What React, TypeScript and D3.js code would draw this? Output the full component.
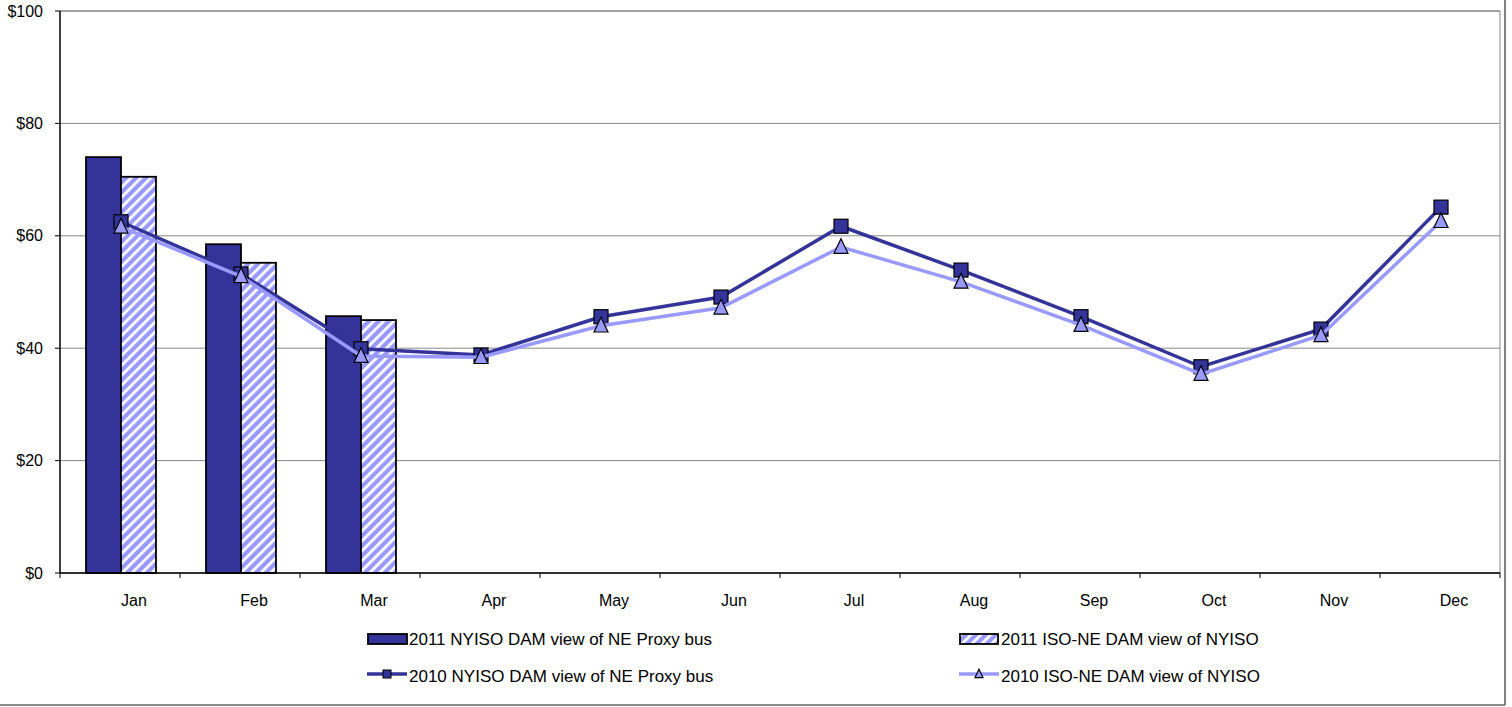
import React from "react";
import * as d3 from "d3";

const months = ["Jan","Feb","Mar","Apr","May","Jun","Jul","Aug","Sep","Oct","Nov","Dec"];
const nyiso2011 = [74.0, 58.5, 45.7];
const isone2011 = [70.5, 55.2, 45.0];
const nyiso2010 = [62.5, 53.2, 39.9, 38.8, 45.6, 49.1, 61.7, 53.9, 45.6, 36.7, 43.4, 65.1];
const isone2010 = [61.6, 52.8, 38.6, 38.4, 44.0, 47.2, 58.0, 51.8, 44.1, 35.4, 42.3, 62.6];
const yTicks = [0, 20, 40, 60, 80, 100];
const legendLabels = [
  "2011 NYISO DAM view of NE Proxy bus",
  "2011 ISO-NE DAM view of NYISO",
  "2010 NYISO DAM view of NE Proxy bus",
  "2010 ISO-NE DAM view of NYISO",
];

const DARK = "#333399";
const LIGHT = "#9999FF";
const FONT = "'Liberation Sans', Arial, sans-serif";

export default function App() {
  const W = 1512, H = 707;
  const left = 60, right = 1500, top = 11, bottom = 573;
  const x = d3.scaleBand<string>().domain(months).range([left, right]);
  const y = d3.scaleLinear().domain([0, 100]).range([bottom, top]);
  const bw = 35;
  const cx = (m: string) => (x(m) as number) + x.bandwidth() / 2 + 1;
  const line = d3.line<number>().x((_, i) => cx(months[i])).y((v) => y(v));

  const tri = (px: number, py: number, s: number) =>
    `M${px},${py - s * 0.6}L${px + s / 2},${py + s * 0.45}L${px - s / 2},${py + s * 0.45}Z`;

  return (
    <svg width={W} height={H} style={{ position: "absolute", left: 0, top: 0, background: "#fff" }} fontFamily={FONT}>
      <defs>
        <pattern id="hatch" patternUnits="userSpaceOnUse" width="7" height="7" patternTransform="rotate(45)">
          <rect width="7" height="7" fill={LIGHT} />
          <rect width="2.8" height="7" fill="#fff" />
        </pattern>
      </defs>
      {/* outer frame */}
      <line x1={1505} y1={0} x2={1505} y2={705} stroke="#000" strokeWidth={1} />
      <line x1={0} y1={705} x2={1505} y2={705} stroke="#666" strokeWidth={1.5} />
      {/* gridlines */}
      {yTicks.map((t) => (
        <line key={t} x1={left} x2={right} y1={y(t)} y2={y(t)} stroke={t === 100 ? "#444" : "#888"} strokeWidth={1} />
      ))}
      <line x1={right} x2={right} y1={top} y2={bottom} stroke="#888" strokeWidth={1} />
      {/* y labels */}
      {yTicks.map((t) => (
        <g key={"l" + t}>
          <line x1={left - 5} x2={left} y1={y(t)} y2={y(t)} stroke="#000" />
          <text x={43} y={y(t)} dy="0.35em" textAnchor="end" fontSize={16} fill="#000">${t}</text>
        </g>
      ))}
      {/* bars */}
      {nyiso2011.map((v, i) => (
        <rect key={"a" + i} x={cx(months[i]) - bw} y={y(v)} width={bw} height={bottom - y(v)} fill={DARK} stroke="#000" strokeWidth={1.8} />
      ))}
      {isone2011.map((v, i) => (
        <rect key={"b" + i} x={cx(months[i])} y={y(v)} width={bw} height={bottom - y(v)} fill="url(#hatch)" stroke="#000" strokeWidth={1.8} />
      ))}
      {/* axes */}
      <line x1={left} x2={left} y1={top} y2={bottom} stroke="#000" strokeWidth={1.5} />
      <line x1={left} x2={right} y1={bottom} y2={bottom} stroke="#000" strokeWidth={1.5} />
      {months.map((m, i) => (
        <line key={"t" + i} x1={x(m) as number} x2={x(m) as number} y1={bottom} y2={bottom + 5} stroke="#000" />
      ))}
      <line x1={right} x2={right} y1={bottom} y2={bottom + 5} stroke="#000" />
      {months.map((m) => (
        <text key={"m" + m} x={cx(m) + 13} y={600} dy="0.35em" textAnchor="middle" fontSize={16} fill="#000">{m}</text>
      ))}
      {/* lines */}
      <path d={line(nyiso2010) || ""} fill="none" stroke={DARK} strokeWidth={3.5} />
      {nyiso2010.map((v, i) => (
        <rect key={"s" + i} x={cx(months[i]) - 7} y={y(v) - 7} width={14} height={14} fill={DARK} stroke="#000" strokeWidth={1.2} />
      ))}
      <path d={line(isone2010) || ""} fill="none" stroke={LIGHT} strokeWidth={3.5} />
      {isone2010.map((v, i) => (
        <path key={"tr" + i} d={tri(cx(months[i]), y(v), 14)} fill={LIGHT} stroke="#000" strokeWidth={1.2} />
      ))}
      {/* legend */}
      <rect x={368} y={634} width={39} height={10} fill={DARK} stroke="#000" strokeWidth={1.8} />
      <text x={409} y={639} dy="0.35em" fontSize={17} fill="#000">{legendLabels[0]}</text>
      <rect x={960} y={634} width={38} height={10} fill="url(#hatch)" stroke="#000" strokeWidth={1.8} />
      <text x={1001} y={639} dy="0.35em" fontSize={17} fill="#000">{legendLabels[1]}</text>
      <line x1={367} x2={407} y1={674} y2={674} stroke={DARK} strokeWidth={3.5} />
      <rect x={383} y={670} width={8} height={8} fill={DARK} stroke="#000" strokeWidth={1} />
      <text x={409} y={676} dy="0.35em" fontSize={17} fill="#000">{legendLabels[2]}</text>
      <line x1={959} x2={999} y1={674} y2={674} stroke={LIGHT} strokeWidth={3.5} />
      <path d={tri(979, 674, 8)} fill={LIGHT} stroke="#000" strokeWidth={1.2} />
      <text x={1001} y={676} dy="0.35em" fontSize={17} fill="#000">{legendLabels[3]}</text>
    </svg>
  );
}
